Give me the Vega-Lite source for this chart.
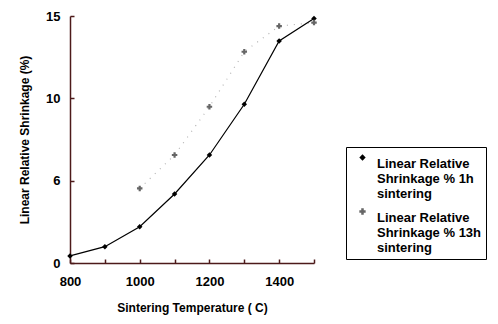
{
  "$schema": "https://vega.github.io/schema/vega-lite/v6.json",
  "width": 244,
  "height": 247,
  "autosize": {"type": "none"},
  "padding": {"left": 70, "top": 16, "right": 184, "bottom": 61},
  "background": "white",
  "config": {
    "view": {"stroke": null},
    "font": "Liberation Sans",
    "axis": {
      "labelColor": "black",
      "titleColor": "black",
      "labelFont": "Liberation Sans",
      "titleFont": "Liberation Sans",
      "labelFontWeight": "bold",
      "titleFontWeight": "bold",
      "grid": false
    }
  },
  "data": {
    "values": [
      {"temp": 800, "shrink": 0.43, "series": "1h"},
      {"temp": 900, "shrink": 0.99, "series": "1h"},
      {"temp": 1000, "shrink": 2.2, "series": "1h"},
      {"temp": 1100, "shrink": 4.19, "series": "1h"},
      {"temp": 1200, "shrink": 6.56, "series": "1h"},
      {"temp": 1300, "shrink": 9.64, "series": "1h"},
      {"temp": 1400, "shrink": 13.48, "series": "1h"},
      {"temp": 1500, "shrink": 14.85, "series": "1h"},
      {"temp": 1000, "shrink": 4.53, "series": "13h"},
      {"temp": 1100, "shrink": 6.56, "series": "13h"},
      {"temp": 1200, "shrink": 9.49, "series": "13h"},
      {"temp": 1300, "shrink": 12.83, "series": "13h"},
      {"temp": 1400, "shrink": 14.39, "series": "13h"},
      {"temp": 1500, "shrink": 14.6, "series": "13h"}
    ]
  },
  "encoding": {
    "x": {
      "field": "temp",
      "type": "quantitative",
      "scale": {"domain": [800, 1500], "nice": false, "zero": false},
      "axis": {
        "domain": true,
        "domainColor": "#4d1a1a",
        "domainWidth": 1.5,
        "ticks": true,
        "tickColor": "#4d1a1a",
        "tickWidth": 1.5,
        "values": [800, 900, 1000, 1100, 1200, 1300, 1400, 1500],
        "labelExpr": "datum.value % 200 == 0 && datum.value < 1500 ? datum.label : ''",
        "format": "d",
        "labelFlush": false,
        "tickSize": -4,
        "labelPadding": 16,
        "labelFontSize": 13,
        "title": "Sintering Temperature ( C)",
        "titleFontSize": 12,
        "titlePadding": 14
      }
    },
    "y": {
      "field": "shrink",
      "type": "quantitative",
      "scale": {"domain": [0, 15], "nice": false},
      "axis": {
        "domain": true,
        "domainColor": "#4d1a1a",
        "domainWidth": 1.5,
        "ticks": true,
        "tickColor": "#4d1a1a",
        "tickWidth": 1.5,
        "values": [0, 5, 10, 15],
        "labelExpr": "datum.value == 5 ? '6' : datum.label",
        "labelFlush": false,
        "tickSize": -4,
        "labelPadding": 14,
        "labelFontSize": 13,
        "title": "Linear Relative Shrinkage (%)",
        "titleFontSize": 12,
        "titlePadding": 14
      }
    }
  },
  "layer": [
    {
      "transform": [{"filter": "datum.series == '13h'"}],
      "mark": {"type": "line", "color": "#b5b5b5", "strokeDash": [1, 6], "strokeWidth": 1.2}
    },
    {
      "transform": [{"filter": "datum.series == '1h'"}],
      "mark": {"type": "line", "color": "black", "strokeWidth": 1.2}
    },
    {
      "mark": {"type": "point", "filled": true, "opacity": 1},
      "encoding": {
        "shape": {
          "field": "series",
          "type": "nominal",
          "scale": {"domain": ["1h", "13h"], "range": ["diamond", "cross"]},
          "legend": {
            "orient": "none",
            "legendX": 276,
            "legendY": 131,
            "title": null,
            "strokeColor": "black",
            "padding": 4,
            "rowPadding": 4,
            "labelFont": "Liberation Sans",
            "labelFontWeight": "bold",
            "labelFontSize": 13,
            "labelColor": "black",
            "labelLimit": 200,
            "labelBaseline": "top",
            "labelOffset": 8,
            "symbolSize": 40,
            "symbolOffset": 6,
            "labelExpr": "datum.value == '1h' ? ['Linear Relative', 'Shrinkage % 1h', 'sintering'] : ['Linear Relative', 'Shrinkage % 13h', 'sintering']"
          }
        },
        "color": {
          "field": "series",
          "type": "nominal",
          "scale": {"domain": ["1h", "13h"], "range": ["black", "#666666"]},
          "legend": {
            "orient": "none",
            "legendX": 276,
            "legendY": 131,
            "title": null,
            "strokeColor": "black",
            "padding": 4,
            "rowPadding": 4,
            "labelFont": "Liberation Sans",
            "labelFontWeight": "bold",
            "labelFontSize": 13,
            "labelColor": "black",
            "labelLimit": 200,
            "labelBaseline": "top",
            "labelOffset": 8,
            "symbolSize": 40,
            "symbolOffset": 6,
            "labelExpr": "datum.value == '1h' ? ['Linear Relative', 'Shrinkage % 1h', 'sintering'] : ['Linear Relative', 'Shrinkage % 13h', 'sintering']"
          }
        },
        "size": {"value": 30}
      }
    }
  ]
}
